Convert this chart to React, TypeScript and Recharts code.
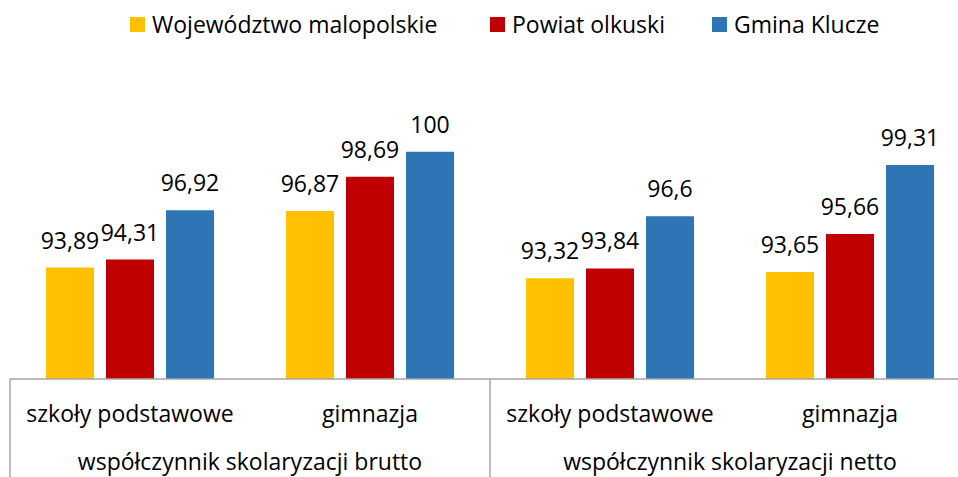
import { BarChart, Bar, XAxis, YAxis, Legend, LabelList } from 'recharts';

// categories and group labels
const categories = ['szkoły podstawowe', 'gimnazja', 'szkoły podstawowe', 'gimnazja'];
const groups = [
  'współczynnik skolaryzacji brutto',
  'współczynnik skolaryzacji brutto',
  'współczynnik skolaryzacji netto',
  'współczynnik skolaryzacji netto',
];

// series values
const wojewodztwo = [93.89, 96.87, 93.32, 93.65];
const powiat = [94.31, 98.69, 93.84, 95.66];
const gmina = [96.92, 100, 96.6, 99.31];

const seriesNames = ['Województwo malopolskie', 'Powiat olkuski', 'Gmina Klucze'];
const colors = ['#FFC000', '#C00000', '#2E75B6'];

const data = categories.map((name, i) => ({
  name,
  woj: wojewodztwo[i],
  pow: powiat[i],
  gmi: gmina[i],
}));

const CHART_W = 980;
const CHART_H = 477;
const MARGIN = { top: 74, right: 10, bottom: 0, left: 10 };
const CAT_W = (CHART_W - MARGIN.left - MARGIN.right) / categories.length;
const FONT = '"Open Sans", sans-serif';
const AXIS_COLOR = '#A6A6A6';

const fmt = (v: any) => String(v).replace('.', ',');

// category ticks + vertical group separators
const CategoryTick = (props: any) => {
  const { x, y, index, payload } = props;
  const left = x - CAT_W / 2;
  return (
    <g>
      {index % 2 === 0 && (
        <line x1={left} x2={left} y1={y} y2={CHART_H} stroke={AXIS_COLOR} strokeWidth={1.5} />
      )}
      {index === categories.length - 1 && (
        <line x1={x + CAT_W / 2} x2={x + CAT_W / 2} y1={y} y2={CHART_H} stroke={AXIS_COLOR} strokeWidth={1.5} />
      )}
      <text x={x} y={y + 43} textAnchor="middle" fill="#000" fontSize={23} fontFamily={FONT}>
        {payload.value}
      </text>
    </g>
  );
};

const GroupTick = (props: any) => {
  const { x, y, index } = props;
  if (index % 2 !== 0) return <g />;
  return (
    <text x={x + CAT_W / 2} y={y + 43} textAnchor="middle" fill="#000" fontSize={23} fontFamily={FONT}>
      {groups[index]}
    </text>
  );
};

// legend with fixed item starts
const legendStarts = [130, 490, 712];
const renderLegend = () => (
  <div style={{ position: 'relative', height: 40, width: 958, fontFamily: FONT }}>
    {seriesNames.map((n, i) => (
      <div
        key={n}
        style={{
          position: 'absolute',
          left: legendStarts[i],
          top: 8,
          display: 'flex',
          alignItems: 'center',
          whiteSpace: 'nowrap',
        }}
      >
        <span style={{ display: 'inline-block', width: 15, height: 15, background: colors[i], marginRight: 7 }} />
        <span style={{ fontSize: 23, color: '#000', lineHeight: '32px' }}>{n}</span>
      </div>
    ))}
  </div>
);

export default function App() {
  return (
    <div style={{ position: 'fixed', left: 0, top: 0, width: 958, height: 477, overflow: 'hidden', background: '#fff' }}>
      <BarChart
        width={CHART_W}
        height={CHART_H}
        data={data}
        margin={MARGIN}
        barCategoryGap={36}
        barGap={12}
      >
        <XAxis
          dataKey="name"
          height={48}
          tickSize={0}
          tickMargin={0}
          tickLine={false}
          axisLine={{ stroke: AXIS_COLOR, strokeWidth: 1.5 }}
          interval={0}
          tick={<CategoryTick />}
        />
        <XAxis
          xAxisId="grp"
          dataKey="name"
          height={50}
          tickSize={0}
          tickMargin={0}
          tickLine={false}
          axisLine={false}
          interval={0}
          tick={<GroupTick />}
        />
        <YAxis hide domain={[88, 102]} allowDataOverflow />
        <Legend
          verticalAlign="top"
          align="left"
          wrapperStyle={{ top: 0, left: 0 }}
          content={renderLegend}
        />
        <Bar dataKey="woj" name={seriesNames[0]} fill={colors[0]} isAnimationActive={false}>
          <LabelList dataKey="woj" position="top" offset={19} formatter={fmt} fill="#000" fontSize={23} fontFamily={FONT} />
        </Bar>
        <Bar dataKey="pow" name={seriesNames[1]} fill={colors[1]} isAnimationActive={false}>
          <LabelList dataKey="pow" position="top" offset={19} formatter={fmt} fill="#000" fontSize={23} fontFamily={FONT} />
        </Bar>
        <Bar dataKey="gmi" name={seriesNames[2]} fill={colors[2]} isAnimationActive={false}>
          <LabelList dataKey="gmi" position="top" offset={19} formatter={fmt} fill="#000" fontSize={23} fontFamily={FONT} />
        </Bar>
      </BarChart>
    </div>
  );
}
